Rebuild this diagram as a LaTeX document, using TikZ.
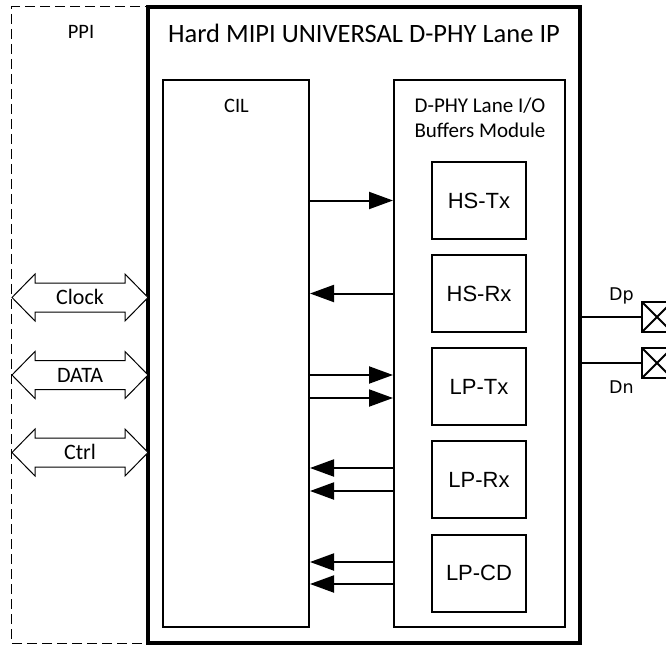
\documentclass[tikz,border=0pt]{standalone}
\usepackage{fontspec}
\setmainfont{Carlito}
\newfontfamily\arialf{Liberation Sans}
\newfontfamily\dejaf{DejaVu Sans}
\usetikzlibrary{arrows.meta,calc}
\begin{document}
\begin{tikzpicture}[x=1bp,y=-1bp,
  blk/.style={draw,line width=2bp,inner sep=0pt},
  sub/.style={draw,line width=2bp,minimum width=94bp,minimum height=77bp,inner sep=0pt,
    font=\arialf\fontsize{22bp}{26bp}\selectfont,text height=15.75bp,text depth=0pt},
  arr/.style={line width=2bp,-{Triangle[length=24bp,width=17bp]}},
  lbl/.style={inner sep=0pt,font=\fontsize{22bp}{26bp}\selectfont,text height=14.2bp,text depth=0pt},
  txt/.style={inner sep=0pt,anchor=base},
  pad/.style={draw,line width=2bp,minimum size=30bp,inner sep=0pt,
    path picture={\draw[line width=2bp] (path picture bounding box.north west) -- (path picture bounding box.south east)
      (path picture bounding box.north east) -- (path picture bounding box.south west);}},
  dblarr/.pic={\draw[line width=1bp,fill=white] (-68,0) -- (-45,-23.5) -- (-45,-14.5) -- (45,-14.5) -- (45,-23.5) -- (68,0)
      -- (45,23.5) -- (45,14.5) -- (-45,14.5) -- (-45,23.5) -- cycle;
      \node[lbl] (-t) at (0,0) {#1};}
]
\clip (0,0) rectangle (666,646);
\fill[white] (0,0) rectangle (666,646);

% PPI dashed region and outer IP box
\node[draw,line width=1bp,dash pattern=on 10bp off 5bp,minimum width=136bp,minimum height=636bp,inner sep=0pt] (ppi) at (80,325) {};
\node[draw,line width=3.5bp,minimum width=432bp,minimum height=636bp,inner sep=0pt] (ip) at (364,325) {};
\node[txt,font=\fontsize{20.5bp}{24bp}\selectfont] (ppit) at (81,38.2) {PPI};
\node[txt,font=\fontsize{26.5bp}{30bp}\selectfont] (ipt) at (364,42.7) {Hard MIPI UNIVERSAL D-PHY Lane IP};

% CIL and buffers module
\node[blk,minimum width=146bp,minimum height=547bp] (cil) at (236,353.5) {};
\node[txt,font=\fontsize{20.5bp}{24bp}\selectfont] (cilt) at (236.5,112.3) {CIL};
\node[blk,minimum width=171bp,minimum height=547bp] (buf) at (479.5,353.5) {};
\node[txt,font=\fontsize{21bp}{24bp}\selectfont] (bufa) at (480,112.7) {D-PHY Lane I/O};
\node[txt,font=\fontsize{21bp}{24bp}\selectfont] (bufb) at (480,137.7) {Buffers Module};

% sub blocks
\node[sub] (hstx) at (479,200.5) {HS-Tx};
\node[sub] (hsrx) at (479,293.5) {HS-Rx};
\node[sub] (lptx) at (479,386.5) {LP-Tx};
\node[sub] (lprx) at (479,479.5) {LP-Rx};
\node[sub] (lpcd) at (479,573) {LP-CD};

% CIL <-> buffers connectors
\draw[arr] (cil.east |- hstx) -- (buf.west |- hstx);
\draw[arr] (buf.west |- hsrx) -- (cil.east |- hsrx);
\draw[arr] ($(cil.east |- lptx)+(0,-11.5)$) -- ($(buf.west |- lptx)+(0,-11.5)$);
\draw[arr] ($(cil.east |- lptx)+(0,11.5)$) -- ($(buf.west |- lptx)+(0,11.5)$);
\draw[arr] ($(buf.west |- lprx)+(0,-11.5)$) -- ($(cil.east |- lprx)+(0,-11.5)$);
\draw[arr] ($(buf.west |- lprx)+(0,11.5)$) -- ($(cil.east |- lprx)+(0,11.5)$);
\draw[arr] ($(buf.west |- lpcd)+(0,-11)$) -- ($(cil.east |- lpcd)+(0,-11)$);
\draw[arr] ($(buf.west |- lpcd)+(0,11)$) -- ($(cil.east |- lpcd)+(0,11)$);

% PPI double arrows
\pic (clk) at (80,297.5) {dblarr=Clock};
\pic (dat) at (80,375) {dblarr=DATA};
\pic (ctl) at (80,452.5) {dblarr=Ctrl};

% pads
\node[pad] (dp) at (657,317) {};
\node[pad] (dn) at (657,363) {};
\draw[line width=2bp] (ip.east |- dp) -- (dp.west);
\draw[line width=2bp] (ip.east |- dn) -- (dn.west);
\node[txt,font=\dejaf\fontsize{17.5bp}{20bp}\selectfont] (dpt) at (621.5,300) {Dp};
\node[txt,font=\dejaf\fontsize{17.5bp}{20bp}\selectfont] (dnt) at (621.5,393) {Dn};
\end{tikzpicture}
\end{document}
